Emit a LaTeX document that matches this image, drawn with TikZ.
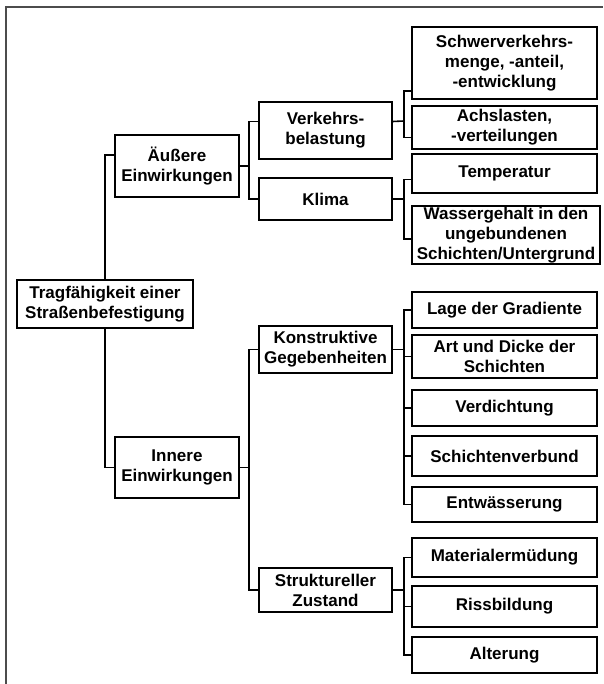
\documentclass[tikz,border=0pt]{standalone}
\usepackage{fontspec}
\setmainfont{Liberation Sans}

\begin{document}
\begin{tikzpicture}[x=1pt, y=-1pt, line width=1.6pt,
    every node/.style={align=center, font=\fontsize{17}{20}\selectfont\bfseries},
    box/.style={draw, inner sep=0pt},
    frame/.style={draw=black!70, line width=1.4pt}]
      \useasboundingbox (0,0) rectangle (603,684);
      \draw[frame] (6,684) -- (6,7) -- (603,7);

      % Root
      \node (root) [box, minimum width=176, minimum height=48] at (105,304) {Tragfähigkeit einer\\Straßenbefestigung};

      % Second level
      \node (aeuss) [box, minimum width=124, minimum height=62] at (177,166) {Äußere\\Einwirkungen};
      \node (inner) [box, minimum width=124, minimum height=61] at (177,467.5) {Innere\\Einwirkungen};
      \draw ([yshift=11pt]aeuss.west) -| (root.north);
      \draw (inner.west) -| (root.south);

      % Äußere Einwirkungen
      \node (verk) [box, minimum width=133, minimum height=57] at (325.5,130.5) {Verkehrs-\\belastung};
      \node (klima) [box, minimum width=133, minimum height=42] at (325.5,199) {Klima};
      \coordinate (jaeuss) at (249,166);
      \draw (aeuss.east) -- (jaeuss);
      \draw ([yshift=9pt]verk.west) -| (jaeuss) |- (klima.west);

      % Verkehrsbelastung
      \node (schwer) [box, minimum width=185, minimum height=72] at (504.5,63) {Schwerverkehrs-\\menge, -anteil,\\-entwicklung};
      \node (achs) [box, minimum width=185, minimum height=43] at (504.5,127.5) {Achslasten,\\-verteilungen};
      \coordinate (jverk) at (404,121);
      \draw ([yshift=9pt]verk.east) -- (jverk);
      \draw ([yshift=-28pt]schwer.west) -| (jverk) |- ([yshift=-10pt]achs.west);

      % Klima
      \node (temp) [box, minimum width=185, minimum height=39] at (504.5,173.5) {Temperatur};
      \node (wasser) [box, minimum width=188, minimum height=58] at (506,235) {Wassergehalt in den\\ungebundenen\\Schichten/Untergrund};
      \coordinate (jklima) at (404,199);
      \draw (klima.east) -- (jklima);
      \draw ([yshift=-6pt]temp.west) -| (jklima) |- ([yshift=-4pt]wasser.west);

      % Innere Einwirkungen
      \node (konst) [box, minimum width=133, minimum height=47] at (325.5,349.5) {Konstruktive\\Gegebenheiten};
      \node (strukt) [box, minimum width=133, minimum height=44] at (325.5,590) {Struktureller\\Zustand};
      \coordinate (jinner) at (249,467.5);
      \draw (inner.east) -- (jinner);
      \draw (konst.west) -| (jinner) |- (strukt.west);

      % Konstruktive Gegebenheiten
      \node (lage) [box, minimum width=185, minimum height=36] at (504.5,310) {Lage der Gradiente};
      \node (art) [box, minimum width=185, minimum height=43] at (504.5,356.5) {Art und Dicke der\\Schichten};
      \node (verd) [box, minimum width=185, minimum height=36] at (504.5,408) {Verdichtung};
      \node (schv) [box, minimum width=185, minimum height=40] at (504.5,456) {Schichtenverbund};
      \node (entw) [box, minimum width=185, minimum height=35] at (504.5,504.5) {Entwässerung};
      \coordinate (jkonst) at (404,349.5);
      \draw (konst.east) -- (jkonst);
      \draw (lage.west) -| (jkonst) |- (entw.west);
      \foreach \n in {art,verd,schv}
        \draw (\n.west) -- (\n.west -| jkonst);

      % Struktureller Zustand
      \node (mat) [box, minimum width=185, minimum height=39] at (504.5,557.5) {Materialermüdung};
      \node (riss) [box, minimum width=185, minimum height=41] at (504.5,606.5) {Rissbildung};
      \node (alt) [box, minimum width=185, minimum height=36] at (504.5,655) {Alterung};
      \coordinate (jstrukt) at (404,590);
      \draw (strukt.east) -- (jstrukt);
      \draw (mat.west) -| (jstrukt) |- (alt.west);
      \draw (riss.west) -- (riss.west -| jstrukt);

    \end{tikzpicture}
\end{document}
